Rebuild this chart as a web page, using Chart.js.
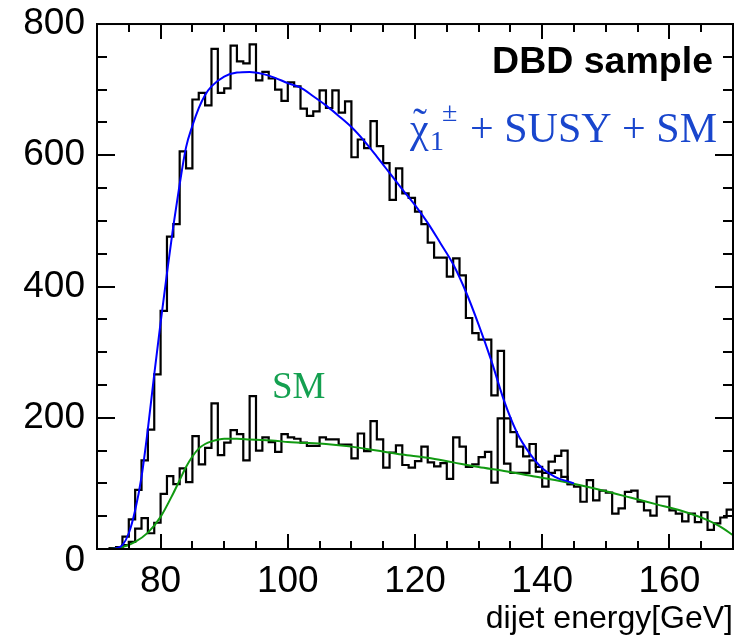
<!DOCTYPE html>
<html><head><meta charset="utf-8">
<script src="https://cdn.jsdelivr.net/npm/chart.js@4/dist/chart.umd.min.js"></script>
<style>html,body{margin:0;padding:0;background:#fff;}#wrap{width:747px;height:642px;}</style>
</head><body><div id="wrap"><canvas id="c" width="747" height="642"></canvas></div>
<script>
// 1 GeV bins, first bin lower edge at 70 GeV
const firstBinEdge = 70;
// SM histogram, bins 70..169
const smCounts = [
  0,0,1,2,6,11,31,47,24,40,
  84,111,99,123,102,172,129,154,222,143,
  162,181,175,135,233,150,170,163,148,175,
  170,168,162,157,157,170,167,167,159,159,
  138,176,149,195,167,124,147,158,128,124,
  134,156,132,126,131,107,170,156,125,129,
  140,148,101,199,130,116,116,116,135,118,
  95,116,120,110,99,95,72,105,74,89,
  86,54,62,87,89,72,59,51,80,80,
  59,54,42,54,41,56,29,39,48,60
];
// chargino + SUSY + SM histogram, bins 70..144 (coincides with SM beyond)
const totalCounts = [
  0,0,1,3,19,45,90,135,182,266,
  363,476,495,606,580,685,695,676,762,695,
  702,767,743,740,769,714,727,717,700,683,
  711,705,671,660,667,699,672,699,665,682,
  597,624,611,652,614,588,532,580,542,535,
  514,495,467,444,444,415,443,417,352,329,
  319,319,234,302,199,178,156,141,160,125,
  116,133,142,150,99
];
// fit curves
const fitTotalE = [72,73,74,75,76,77,78,79,80,81,82,83,84,85,86,87,88,90,92,94,96,98,100,102,104,106,108,110,112,114,116,118,120,122,124,126,128,130,132,134,136,138,140,142,144,145];
const fitTotalV = [0,1,6,24,59,110,183,266,345,420,492,556,612,645,672,692,705,720,726,727,724,718,710,703,690,676,660,643,622,598,573,548,524,497,466,434,392,342,287,226,178,146,123,110,103,100];
const fitSmE = [70,72,74,76,78,80,82,83,84,85,86,87,88,90,92,94,96,98,100,102,106,110,114,118,122,126,130,134,138,142,146,150,154,158,162,166,168,170];
const fitSmV = [0,0,3,11,25,49,85,105,125,141,153,160,164,168,168,167,166,165,163,162,160,156,150,144,139,132,125,119,112,105,97,88,78,68,58,44,34,21];
// axis ticks
const xTickLabels = [80,100,120,140,160];
const yTickLabels = [0,200,400,600,800];
const xMinorStep = 5, xMajorStep = 20, yMinorStep = 50, yMajorStep = 200;

function histPoints(counts){
  const pts = counts.map((v,i)=>({x:firstBinEdge+i, y:v}));
  pts.push({x:firstBinEdge+counts.length, y:counts[counts.length-1]});
  return pts;
}
function curvePoints(E,V){ return E.map((e,i)=>({x:e,y:V[i]})); }

const SANS = '"Liberation Sans", Arial, Helvetica, sans-serif';
const SERIF = '"Liberation Serif", "Times New Roman", serif';

const framePlugin = {
  id:'frame',
  afterDatasetsDraw(chart){
    const {ctx, chartArea:{left,right,top,bottom}, scales:{x,y}} = chart;
    ctx.save();
    ctx.strokeStyle='#000'; ctx.lineWidth=2;
    ctx.beginPath();
    for(let v=75; v<170; v+=xMinorStep){
      const px = Math.round(x.getPixelForValue(v));
      const len = (v % xMajorStep === 0) ? 15 : 8;
      ctx.moveTo(px,bottom); ctx.lineTo(px,bottom-len);
      ctx.moveTo(px,top); ctx.lineTo(px,top+len);
    }
    for(let v=yMinorStep; v<800; v+=yMinorStep){
      const py = Math.round(y.getPixelForValue(v));
      const len = (v % yMajorStep === 0) ? 18 : 10;
      ctx.moveTo(left,py); ctx.lineTo(left+len,py);
      ctx.moveTo(right,py); ctx.lineTo(right-len,py);
    }
    ctx.stroke();
    ctx.strokeRect(left,top,right-left,bottom-top);
    ctx.restore();
  },
  afterDraw(chart){
    const ctx = chart.ctx;
    ctx.save();
    ctx.fillStyle='#000';
    ctx.font = 'bold 37.5px ' + SANS;
    ctx.textAlign='right'; ctx.textBaseline='alphabetic';
    ctx.fillText('DBD sample', 713, 73);
    // chargino label
    ctx.fillStyle='rgb(25,70,205)';
    ctx.textAlign='left';
    ctx.font = '42px ' + SERIF;
    ctx.fillText('\u03C7', 410, 142);
    ctx.textAlign='center';
    ctx.fillText('\u02DC', 420, 137);
    ctx.textAlign='left';
    ctx.font = '28px ' + SERIF;
    ctx.fillText('1', 430, 150);
    ctx.fillText('\u00B1', 442, 121);
    ctx.font = '42px ' + SERIF;
    ctx.textAlign='right';
    ctx.fillText('+ SUSY + SM', 717, 142);
    // SM label
    ctx.fillStyle='rgb(20,160,80)';
    ctx.textAlign='left';
    ctx.font = '37px ' + SERIF;
    ctx.fillText('SM', 272, 398);
    ctx.restore();
  }
};

new Chart(document.getElementById('c'), {
  type:'line',
  data:{
    datasets:[
      {label:'fit total', data:curvePoints(fitTotalE,fitTotalV), borderColor:'#0000ff', borderWidth:2, pointRadius:0, cubicInterpolationMode:'monotone', fill:false},
      {label:'fit SM', data:curvePoints(fitSmE,fitSmV), borderColor:'#119a11', borderWidth:2, pointRadius:0, cubicInterpolationMode:'monotone', fill:false},
      {label:'total', data:histPoints(totalCounts), borderColor:'#000', borderWidth:2.2, pointRadius:0, stepped:'before', fill:false},
      {label:'SM', data:histPoints(smCounts), borderColor:'#000', borderWidth:2.2, pointRadius:0, stepped:'before', fill:false}
    ]
  },
  options:{
    responsive:false, animation:false, devicePixelRatio:1,
    layout:{padding:{left:0,right:14,top:17,bottom:0}},
    plugins:{legend:{display:false}, tooltip:{enabled:false}},
    scales:{
      x:{
        type:'linear', min:70, max:170,
        afterBuildTicks:s=>{ s.ticks = xTickLabels.map(v=>({value:v})); },
        afterFit:s=>{ s.height = 93; },
        grid:{display:false, drawTicks:false}, border:{display:false},
        ticks:{color:'#000', font:{family:SANS, size:37, lineHeight:1}, padding:14, maxRotation:0, autoSkip:false},
        title:{display:true, text:'dijet energy[GeV]', align:'end', color:'#000', font:{family:SANS, size:32, lineHeight:1}, padding:{top:0,bottom:7}}
      },
      y:{
        type:'linear', min:0, max:800,
        afterBuildTicks:s=>{ s.ticks = yTickLabels.map(v=>({value:v})); },
        afterFit:s=>{ s.width = 97; },
        grid:{display:false, drawTicks:false}, border:{display:false},
        ticks:{color:'#000', font:{family:SANS, size:37, lineHeight:0.65}, padding:12,
          callback:v=> v===0 ? ['', '0'] : String(v)}
      }
    }
  },
  plugins:[framePlugin]
});
</script></body></html>
